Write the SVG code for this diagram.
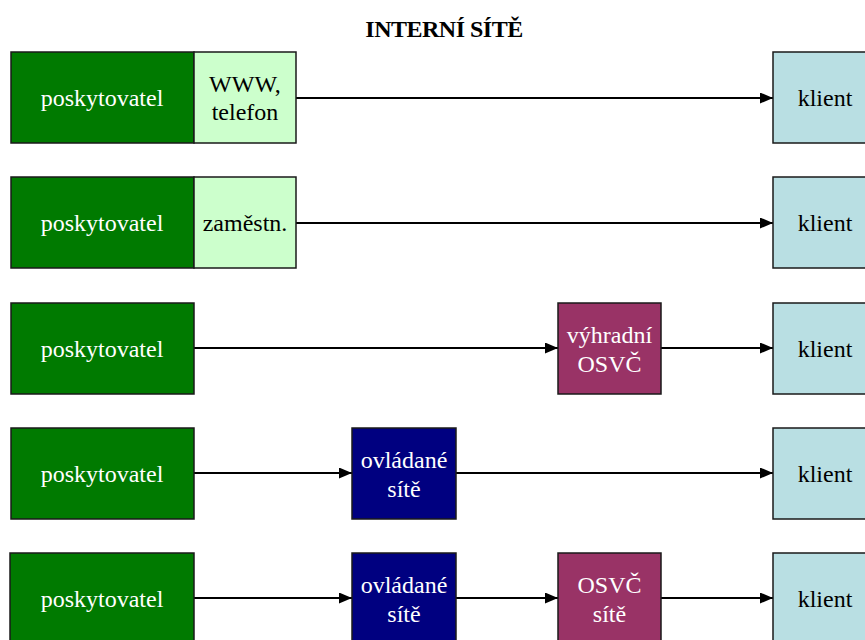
<svg xmlns="http://www.w3.org/2000/svg" width="865" height="640" viewBox="0 0 865 640">
<defs>
<marker id="arr" markerWidth="13" markerHeight="11" refX="13" refY="5.5" orient="auto" markerUnits="userSpaceOnUse">
<path d="M0,0 L13,5.5 L0,11 Z" fill="#000"/>
</marker>
<style>
.box{stroke:#1a1a1a;stroke-width:1.5}
.g{fill:#007A00}
.lg{fill:#CCFFCC}
.kl{fill:#B9DFE3}
.mg{fill:#993366}
.nv{fill:#000080}
text{font-family:"Liberation Serif","Times New Roman",serif;font-size:24px;text-anchor:middle}
.w{fill:#fff}
.b{fill:#000}
.con line{stroke:#000;stroke-width:2;marker-end:url(#arr)}
</style>
</defs>
<rect width="865" height="640" fill="#fff"/>
<text x="444" y="37" style="font-weight:bold;font-size:24px;letter-spacing:-0.5px" fill="#000">INTERNÍ SÍTĚ</text>

<g id="connectors" class="con">
<line x1="296" y1="98" x2="773" y2="98"/>
<line x1="296" y1="223" x2="773" y2="223"/>
<line x1="194" y1="348" x2="558" y2="348"/>
<line x1="661" y1="348" x2="773" y2="348"/>
<line x1="194" y1="473" x2="352" y2="473"/>
<line x1="456" y1="473" x2="773" y2="473"/>
<line x1="194" y1="598" x2="352" y2="598"/>
<line x1="456" y1="598" x2="558" y2="598"/>
<line x1="661" y1="598" x2="773" y2="598"/>
</g>

<g id="prov1"><rect class="box g" x="11" y="52" width="183" height="91"/><text class="w" x="102" y="106">poskytovatel</text></g>
<g id="www"><rect class="box lg" x="194" y="52" width="102" height="91"/><text class="b" x="245" y="92">WWW,</text><text class="b" x="245" y="120">telefon</text></g>
<g id="klient1"><rect class="box kl" x="773" y="52" width="100" height="91"/><text class="b" x="825" y="106">klient</text></g>

<g id="prov2"><rect class="box g" x="11" y="177" width="183" height="91"/><text class="w" x="102" y="231">poskytovatel</text></g>
<g id="zam"><rect class="box lg" x="194" y="177" width="102" height="91"/><text class="b" x="245" y="231">zaměstn.</text></g>
<g id="klient2"><rect class="box kl" x="773" y="177" width="100" height="91"/><text class="b" x="825" y="231">klient</text></g>

<g id="prov3"><rect class="box g" x="11" y="303" width="183" height="91"/><text class="w" x="102" y="357">poskytovatel</text></g>
<g id="vyhr"><rect class="box mg" x="558" y="303" width="103" height="91"/><text class="w" x="609.5" y="343">výhradní</text><text class="w" x="609.5" y="372">OSVČ</text></g>
<g id="klient3"><rect class="box kl" x="773" y="303" width="100" height="91"/><text class="b" x="825" y="357">klient</text></g>

<g id="prov4"><rect class="box g" x="11" y="428" width="183" height="91"/><text class="w" x="102" y="482">poskytovatel</text></g>
<g id="ovl4"><rect class="box nv" x="352" y="428" width="104" height="91"/><text class="w" x="404" y="468">ovládané</text><text class="w" x="404" y="497">sítě</text></g>
<g id="klient4"><rect class="box kl" x="773" y="428" width="100" height="91"/><text class="b" x="825" y="482">klient</text></g>

<g id="prov5"><rect class="box g" x="10" y="553" width="184" height="91"/><text class="w" x="102" y="607">poskytovatel</text></g>
<g id="ovl5"><rect class="box nv" x="352" y="553" width="104" height="91"/><text class="w" x="404" y="593">ovládané</text><text class="w" x="404" y="622">sítě</text></g>
<g id="osvc5"><rect class="box mg" x="558" y="553" width="103" height="91"/><text class="w" x="609.5" y="593">OSVČ</text><text class="w" x="609.5" y="622">sítě</text></g>
<g id="klient5"><rect class="box kl" x="773" y="553" width="100" height="91"/><text class="b" x="825" y="607">klient</text></g>
</svg>
